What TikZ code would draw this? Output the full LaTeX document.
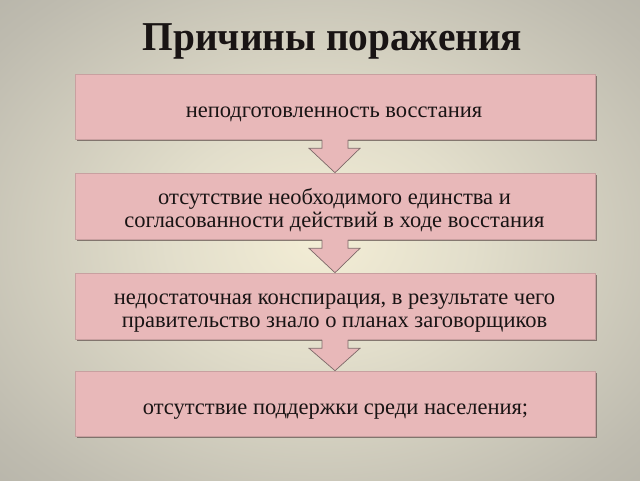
\documentclass[tikz,border=0pt]{standalone}
\usepackage{fontspec}
\setmainfont{Liberation Serif}
\newfontfamily\titlefont{Liberation Serif}[FakeStretch=0.96]
\usetikzlibrary{calc,shadows}
\definecolor{bgA}{RGB}{243,237,213}
\definecolor{bgB}{RGB}{226,222,203}
\definecolor{bgC}{RGB}{190,187,175}
\definecolor{bgD}{RGB}{166,164,155}
\definecolor{boxpink}{RGB}{232,184,185}
\definecolor{boxedge}{RGB}{200,160,160}
\definecolor{arrowedge}{RGB}{125,105,105}
\definecolor{shadowcol}{RGB}{110,95,90}
\definecolor{txt}{RGB}{25,20,20}
\pgfdeclareradialshading{bgshade}{\pgfpoint{0bp}{0bp}}{color(0bp)=(bgA); color(12bp)=(bgB); color(32bp)=(bgC); color(50bp)=(bgD)}
\tikzset{
  causebox/.style={draw=boxedge, line width=0.6pt, fill=boxpink, minimum width=520pt,
    inner sep=0pt,
    drop shadow={shadow xshift=2pt, shadow yshift=-2pt, fill=shadowcol, opacity=0.8}},
  boxtext/.style={anchor=base, align=center, inner sep=0pt, text=txt,
    font=\fontsize{22.5}{23}\selectfont},
  arrowfill/.style={fill=boxpink},
  arrowline/.style={draw=arrowedge, line width=0.7pt, line join=miter},
}
\begin{document}
\begin{tikzpicture}[x=1pt,y=-1pt]
\useasboundingbox (0,0) rectangle (640,480);
\shade[shading=bgshade] (0,0) rectangle (640,480);
\node[font=\titlefont\bfseries\fontsize{41}{41}\selectfont, text=txt, anchor=base, inner sep=0pt] (title) at (332.5,50.7) {Причины поражения};
\node[causebox, minimum height=65pt] (b1) at (335,106.5) {};
\node[causebox, minimum height=66pt] (b2) at (335,206) {};
\node[causebox, minimum height=66pt] (b3) at (335,306) {};
\node[causebox, minimum height=65pt] (b4) at (335,403.5) {};
\node[boxtext] (t1) at (334,117) {неподготовленность восстания};
\node[boxtext] (t2) at (334.5,227.5) {отсутствие необходимого единства и\\согласованности действий в ходе восстания};
\node[boxtext] (t3) at (334.5,327.5) {недостаточная конспирация, в результате чего\\правительство знало о планах заговорщиков};
\node[boxtext] (t4) at (335.5,414) {отсутствие поддержки среди населения;};
\foreach \a/\b in {b1/b2,b2/b3,b3/b4}{
  \fill[arrowfill] ($(\a.south)+(-13,-1)$) -- ($(\a.south)+(-13,9)$) -- ($(\a.south)+(-26,9)$) -- (\b.north) -- ($(\a.south)+(25,9)$) -- ($(\a.south)+(13,9)$) -- ($(\a.south)+(13,-1)$) -- cycle;
  \draw[arrowline] ($(\a.south)+(-13,0.5)$) -- ($(\a.south)+(-13,9)$) -- ($(\a.south)+(-26,9)$) -- (\b.north) -- ($(\a.south)+(25,9)$) -- ($(\a.south)+(13,9)$) -- ($(\a.south)+(13,0.5)$);
}
\end{tikzpicture}
\end{document}
